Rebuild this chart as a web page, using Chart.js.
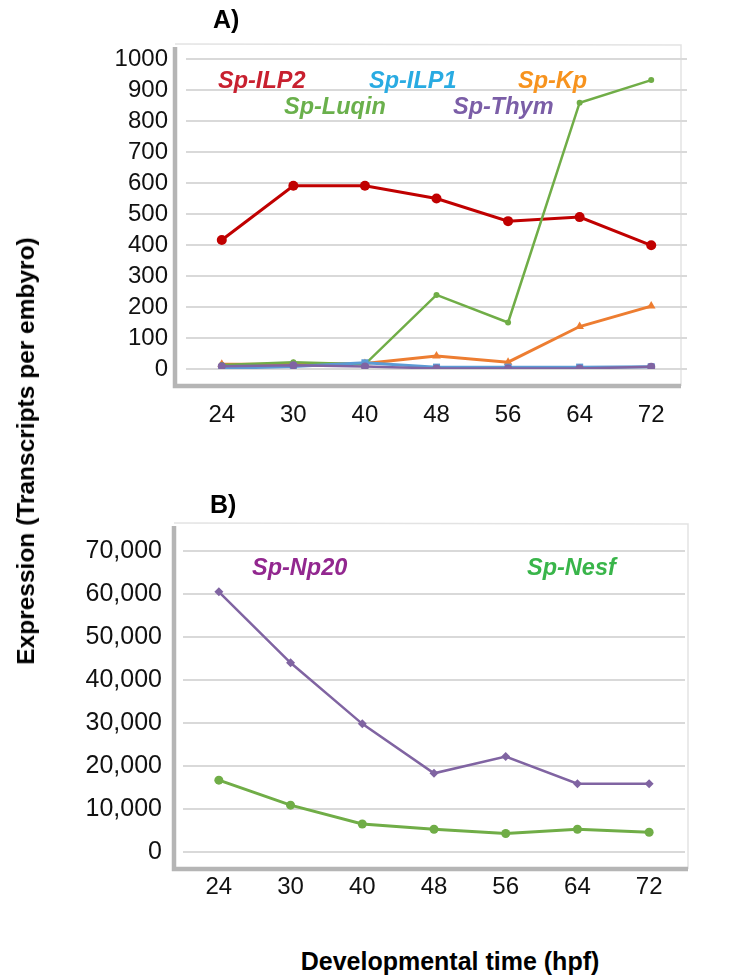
<!DOCTYPE html>
<html>
<head>
<meta charset="utf-8">
<script src="https://cdn.jsdelivr.net/npm/chart.js@4/dist/chart.umd.min.js"></script>
<style>
  body { margin: 0; background: #fff; width: 741px; height: 977px; position: relative; overflow: hidden; font-family: "Liberation Sans", Arial, sans-serif; }
  canvas { position: absolute; left: 0; }
  #chartA { top: 0; }
  #chartB { top: 480px; }
  .panel { position: absolute; font-weight: bold; font-size: 25px; }
  #yTitle { position: absolute; left: 26px; top: 451px; transform: translate(-50%, -50%) rotate(-90deg); white-space: nowrap; font-weight: bold; font-size: 24.5px; }
  #xTitle { position: absolute; left: 450px; top: 961px; transform: translate(-50%, -50%); white-space: nowrap; font-weight: bold; font-size: 25px; }
</style>
</head>
<body>
<canvas id="chartA" width="741" height="440"></canvas>
<canvas id="chartB" width="741" height="440"></canvas>
<div class="panel" style="left:213px; top:5px;">A)</div>
<div class="panel" style="left:210px; top:490px;">B)</div>
<div id="yTitle">Expression (Transcripts per embyro)</div>
<div id="xTitle">Developmental time (hpf)</div>
<script>
const hours = ['24', '30', '40', '48', '56', '64', '72'];

// panel A
const ilp2 = [416, 591, 591, 550, 477, 490, 399];
const luqin = [13, 22, 15, 239, 150, 859, 932];
const kp = [15, 15, 18, 42, 22, 137, 203];
const ilp1 = [2, 8, 20, 6, 6, 6, 7];
const thym = [9, 12, 8, 2, 2, 2, 7];
const ticksA = [0, 100, 200, 300, 400, 500, 600, 700, 800, 900, 1000];

// panel B
const np20 = [60500, 44000, 29800, 18300, 22200, 15900, 15900];
const nesf = [16700, 10900, 6500, 5300, 4300, 5300, 4600];
const ticksB = [0, 10000, 20000, 30000, 40000, 50000, 60000, 70000];

const font = '"Liberation Sans", Arial, sans-serif';

// inline series names, canvas pixel positions
const namesA = [
    { text: 'Sp-ILP2', color: '#c8202f', x: 218, y: 82 },
    { text: 'Sp-ILP1', color: '#29abe2', x: 369, y: 82 },
    { text: 'Sp-Kp', color: '#f7931e', x: 518, y: 82 },
    { text: 'Sp-Luqin', color: '#6ab04c', x: 284, y: 108 },
    { text: 'Sp-Thym', color: '#7b5ea7', x: 453, y: 108 }
];
const namesB = [
    { text: 'Sp-Np20', color: '#92278f', x: 252, y: 89 },
    { text: 'Sp-Nesf', color: '#39b54a', x: 527, y: 89 }
];

function framePlugin(frame, names) {
    return {
        id: 'frame',
        beforeDraw(chart) {
            const ctx = chart.ctx;
            const ca = chart.chartArea;
            ctx.save();
            // faint top and right edge
            ctx.strokeStyle = '#e3e3e3';
            ctx.lineWidth = 1.5;
            ctx.beginPath();
            ctx.moveTo(ca.left + frame.left, ca.top + frame.top);
            ctx.lineTo(ca.right + frame.right, ca.top + frame.top + 1);
            ctx.lineTo(ca.right + frame.right, ca.bottom + frame.bottom);
            ctx.stroke();
            // heavy gray left and bottom edge
            ctx.strokeStyle = '#b5b5b5';
            ctx.lineWidth = 4.5;
            ctx.beginPath();
            ctx.moveTo(ca.left + frame.left, ca.top + frame.top + 3);
            ctx.lineTo(ca.left + frame.left, ca.bottom + frame.bottom);
            ctx.lineTo(ca.right + frame.right, ca.bottom + frame.bottom);
            ctx.stroke();
            ctx.restore();
        },
        afterDraw(chart) {
            const ctx = chart.ctx;
            ctx.save();
            ctx.font = 'italic bold 23.5px ' + font;
            ctx.textBaseline = 'middle';
            names.forEach(n => {
                ctx.fillStyle = n.color;
                ctx.fillText(n.text, n.x, n.y);
            });
            ctx.restore();
        }
    };
}

function line(label, data, color, style, radius, width, order) {
    return {
        label: label,
        data: data,
        borderColor: color,
        backgroundColor: color,
        pointStyle: style,
        pointRadius: radius,
        pointBorderWidth: 0,
        borderWidth: width,
        tension: 0,
        order: order
    };
}

function options(yTicks, yWidth, yPad, yFont, xHeight, xPad, pad, fmt) {
    return {
        responsive: false,
        animation: false,
        layout: { padding: pad },
        plugins: { legend: { display: false }, tooltip: { enabled: false } },
        scales: {
            x: {
                offset: true,
                grid: { display: false, drawTicks: false },
                border: { display: false },
                ticks: { color: '#111', font: { family: font, size: 24 }, padding: xPad },
                afterFit(s) { s.height = xHeight; }
            },
            y: {
                min: yTicks[0],
                max: yTicks[yTicks.length - 1],
                grid: { color: '#d9d9d9', lineWidth: 2, drawTicks: false },
                border: { display: false },
                ticks: { autoSkip: false, color: '#111', font: { family: font, size: yFont }, padding: yPad, callback: fmt },
                afterBuildTicks(s) { s.ticks = yTicks.map(v => ({ value: v })); },
                afterFit(s) { s.width = yWidth; }
            }
        }
    };
}

new Chart(document.getElementById('chartA'), {
    type: 'line',
    data: {
        labels: hours,
        datasets: [
            line('Sp-Thym', thym, '#8064a2', 'circle', 4, 2.5, 0),
            line('Sp-ILP1', ilp1, '#5b9bd5', 'rect', 5, 3, 1),
            line('Sp-Luqin', luqin, '#70ad47', 'circle', 3, 2.5, 2),
            line('Sp-Kp', kp, '#ed7d31', 'triangle', 5, 3, 3),
            line('Sp-ILP2', ilp2, '#c00000', 'circle', 5, 3, 4)
        ]
    },
    options: options(ticksA, 186, 18, 24, 71, 32,
        { left: 0, right: 54, top: 59, bottom: 0 }, v => v),
    plugins: [framePlugin({ left: -11, right: -6, top: -15, bottom: 17 }, namesA)]
});

new Chart(document.getElementById('chartB'), {
    type: 'line',
    data: {
        labels: hours,
        datasets: [
            line('Sp-Np20', np20, '#8064a2', 'rectRot', 4.5, 2.5, 0),
            line('Sp-Nesf', nesf, '#70ad47', 'circle', 4.5, 3, 1)
        ]
    },
    options: options(ticksB, 183, 21, 25, 68, 21,
        { left: 0, right: 56, top: 71, bottom: 0 }, v => v.toLocaleString('en-US')),
    plugins: [framePlugin({ left: -9, right: 3, top: -28, bottom: 17 }, namesB)]
});
</script>
</body>
</html>
